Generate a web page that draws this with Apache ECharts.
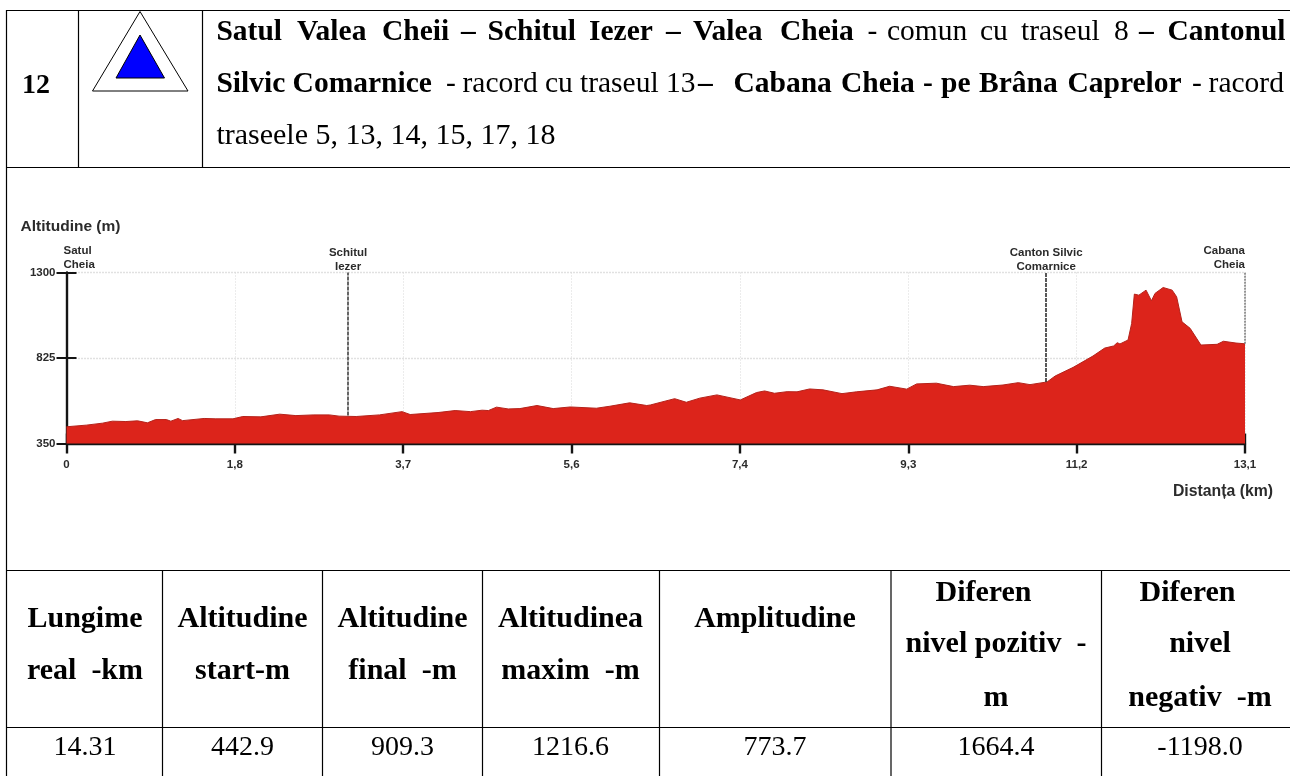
<!DOCTYPE html>
<html><head><meta charset="utf-8">
<style>html,body{margin:0;padding:0;background:#fff}#c{width:1290px;height:776px}</style>
<script src="https://cdn.jsdelivr.net/npm/echarts@6/dist/echarts.min.js"></script>
</head><body><div id="c"></div>
<script>
// profile data
const distanceKm = [0,0.02,0.22,0.40,0.51,0.66,0.79,0.90,0.99,1.11,1.16,1.24,1.29,1.53,1.66,1.85,1.96,2.16,2.37,2.55,2.75,2.92,3.03,3.22,3.48,3.73,3.82,4.13,4.32,4.49,4.62,4.69,4.78,4.91,5.04,5.23,5.41,5.60,5.89,6.04,6.26,6.45,6.49,6.76,6.89,7.04,7.23,7.49,7.67,7.76,7.87,8.01,8.12,8.26,8.41,8.62,8.78,9.01,9.15,9.34,9.45,9.67,9.86,10.04,10.19,10.41,10.58,10.71,10.90,10.99,11.19,11.41,11.54,11.64,11.68,11.71,11.80,11.84,11.87,11.92,12.00,12.06,12.10,12.19,12.29,12.34,12.40,12.49,12.61,12.79,12.86,13.0,13.1];
const altitudeM = [442.9,441,452,463,474,472,476,465,483,483,474,489,477,489,487,487,500,498,513,505,509,509,502,500,509,527,511,522,533,527,535,533,552,542,544,561,544,553,546,557,576,561,564,599,579,602,620,592,633,642,629,638,637,653,648,627,637,648,668,652,681,685,666,674,666,675,688,677,692,725,773,836,880,892,910,903,925,1017,1180,1174,1202,1143,1184,1216.6,1202,1165,1026,990,897,901,918,908,904];
const xTickValues = [0,1.8714,3.7429,5.6143,7.4857,9.3571,11.2286,13.1];
const xTickLabels = ['0','1,8','3,7','5,6','7,4','9,3','11,2','13,1'];
const yTickValues = [350,825,1300];
const markerKm = [0,3.13,10.89,13.1];
const markerAlt = [442.9,505,692,904];
const markerNames = ['Satul\nCheia','Schitul\nIezer','Canton Silvic\nComarnice','Cabana\nCheia'];
const tableHeaders = [['Lungime','real  -km'],['Altitudine','start-m'],['Altitudine','final  -m'],['Altitudinea','maxim  -m'],['Amplitudine'],['Diferen','nivel pozitiv  -','m'],['Diferen','nivel','negativ  -m']];
const tableValues = ['14.31','442.9','909.3','1216.6','773.7','1664.4','-1198.0'];
const routeNumber = '12';

const SERIF = '"Liberation Serif","Times New Roman",serif';
const SANS = '"Liberation Sans",Arial,sans-serif';
const g = [];
const ln = (x1,y1,x2,y2)=>g.push({type:'line',silent:true,shape:{x1,y1,x2,y2},style:{stroke:'#000',lineWidth:1.2}});
const tx = (text,x,base,size,bold,align)=>g.push({type:'text',silent:true,x,y:base-size*0.3,style:{text,fill:'#000',font:(bold?'bold ':'')+size+'px '+SERIF,align:align||'left',verticalAlign:'middle'}});

// table rules
[10.5,167.5,570.5,727.5].forEach(y=>ln(6,y,1290,y));
ln(6.5,10,6.5,776);
[78.5,202.5].forEach(x=>ln(x,10,x,167.5));
[162.5,322.5,482.5,659.5,891,1101.5].forEach(x=>{ln(x,570.5,x,776);});

// route heading
tx(routeNumber,22,94,28,true);
g.push({type:'polygon',silent:true,shape:{points:[[140,11.5],[188,91],[92.5,91]]},style:{fill:'#fff',stroke:'#000',lineWidth:1}});
g.push({type:'polygon',silent:true,shape:{points:[[140,35],[164.5,78],[116,78]]},style:{fill:'#0000ff',stroke:'#000',lineWidth:1}});
const headLine1 = [['Satul',216.4,1],['Valea',297,1],['Cheii',382,1],['–',461,1],['Schitul',487.5,1],['Iezer',589,1],['–',666,1],['Valea',693,1],['Cheia',780,1],['-',867.5,0],['comun',887,0],['cu',980,0],['traseul',1021,0],['8',1114,0],['–',1139,1],['Cantonul',1167.5,1]];
const headLine2 = [['Silvic Comarnice',216.4,1],['-',446,0],['racord',462.5,0],['cu',545,0],['traseul',580,0],['13',666,0],['–',698,1],['Cabana',733.5,1],['Cheia',841,1],['-',923,1],['pe',941,1],['Brâna',979,1],['Caprelor',1067.5,1],['-',1192,0],['racord',1208.6,0]];
headLine1.forEach(w=>tx(w[0],w[1],41,29.5,w[2]));
headLine2.forEach(w=>tx(w[0],w[1],93,29.5,w[2]));
tx('traseele 5, 13, 14, 15, 17, 18',216.4,145,30,false);

// bottom table
const colCenters = [85,242.5,402.5,570.5,775,996,1200];
const headerBase = {1:[628],2:[628,680],3:[602,653.5,707]};
tableHeaders.forEach((lines,i)=>{
  const bases = headerBase[lines.length];
  lines.forEach((t,j)=>{
    let x = colCenters[i];
    if(t==='Diferen') x = i===5?983.5:1187.5;
    tx(t,x,bases[j],30,true,'center');
  });
});
tableValues.forEach((t,i)=>tx(t,colCenters[i],756,28,false,'center'));

const chart = echarts.init(document.getElementById('c'),null,{renderer:'canvas',width:1290,height:776});
const axisFont = {fontFamily:SANS,fontWeight:'bold',fontSize:11.5,color:'#2b2b2b'};
const axisLine = {show:true,onZero:false,lineStyle:{color:'#141414',width:2.4}};
const grid = {left:66.5,top:272.5,width:1178.5,height:171};
const markerStyles = [
  {line:{color:'rgba(0,0,0,0)'},align:'left',offset:[-3,0],dist:1},
  {line:{color:'#333',width:1.5,type:[4,1]},align:'center',offset:[0,1],dist:0},
  {line:{color:'#222',width:1.5,type:[4,1]},align:'center',offset:[0,1],dist:0},
  {line:{color:'#777',width:1.5,type:[2,1]},align:'right',offset:[0,0],dist:1}
];
chart.setOption({
  animation:false,
  backgroundColor:'#fff',
  grid,
  graphic:{elements:g},
  xAxis:[
    {type:'value',min:0,max:13.1,position:'bottom',
     name:'Distanța (km)',nameLocation:'end',nameGap:28,
     nameTextStyle:{fontFamily:SANS,fontWeight:'bold',fontSize:15.8,color:'#2b2b2b',align:'right',verticalAlign:'top',padding:[40,0,0,0]},
     axisLine,
     axisTick:{show:true,length:10,customValues:xTickValues,lineStyle:{color:'#141414',width:2.4}},
     axisLabel:{...axisFont,margin:15,customValues:xTickValues,formatter:v=>xTickLabels[xTickValues.indexOf(v)]},
     splitLine:{show:true,lineStyle:{color:'#d8d8d8',width:1,type:[1,2]}}},
    {type:'value',min:0,max:13.1,position:'bottom',
     axisLine:{show:false},
     axisTick:{show:true,inside:true,length:10,customValues:xTickValues,lineStyle:{color:'#141414',width:2.4}},
     axisLabel:{show:false,customValues:xTickValues},splitLine:{show:false}}
  ],
  yAxis:[
    {type:'value',min:350,max:1300,position:'left',
     name:'Altitudine (m)',nameLocation:'end',nameGap:38,
     nameTextStyle:{fontFamily:SANS,fontWeight:'bold',fontSize:15.5,color:'#2b2b2b',align:'center',padding:[0,0,0,8]},
     axisLine,
     axisTick:{show:true,length:10,customValues:yTickValues,lineStyle:{color:'#141414',width:2}},
     axisLabel:{...axisFont,margin:11,customValues:yTickValues,formatter:v=>String(v)},
     splitLine:{show:true,lineStyle:{color:'#c4c4c4',width:1.4,type:[1,2]}}},
    {type:'value',min:350,max:1300,position:'left',
     axisLine:{show:false},
     axisTick:{show:true,inside:true,length:10,customValues:yTickValues,lineStyle:{color:'#141414',width:2}},
     axisLabel:{show:false,customValues:yTickValues},splitLine:{show:false}}
  ],
  series:[{
    type:'line',name:'Altitudine',showSymbol:false,smooth:false,silent:true,
    data:distanceKm.map((d,i)=>[d,altitudeM[i]]),
    lineStyle:{color:'#b5221a',width:1},
    areaStyle:{color:'#dc241b',opacity:1},
    z:3,
    markLine:{silent:true,symbol:'none',animation:false,z:4,
      data:markerKm.map((km,i)=>[
        {coord:[km,markerAlt[i]],lineStyle:markerStyles[i].line,
         label:{show:true,position:'end',formatter:markerNames[i],align:markerStyles[i].align,verticalAlign:'bottom',distance:markerStyles[i].dist,offset:markerStyles[i].offset,
                fontFamily:SANS,fontWeight:'bold',fontSize:11.5,lineHeight:14,color:'#2b2b2b'}},
        {coord:[km,1300]}
      ])}
  }]
});
</script></body></html>
